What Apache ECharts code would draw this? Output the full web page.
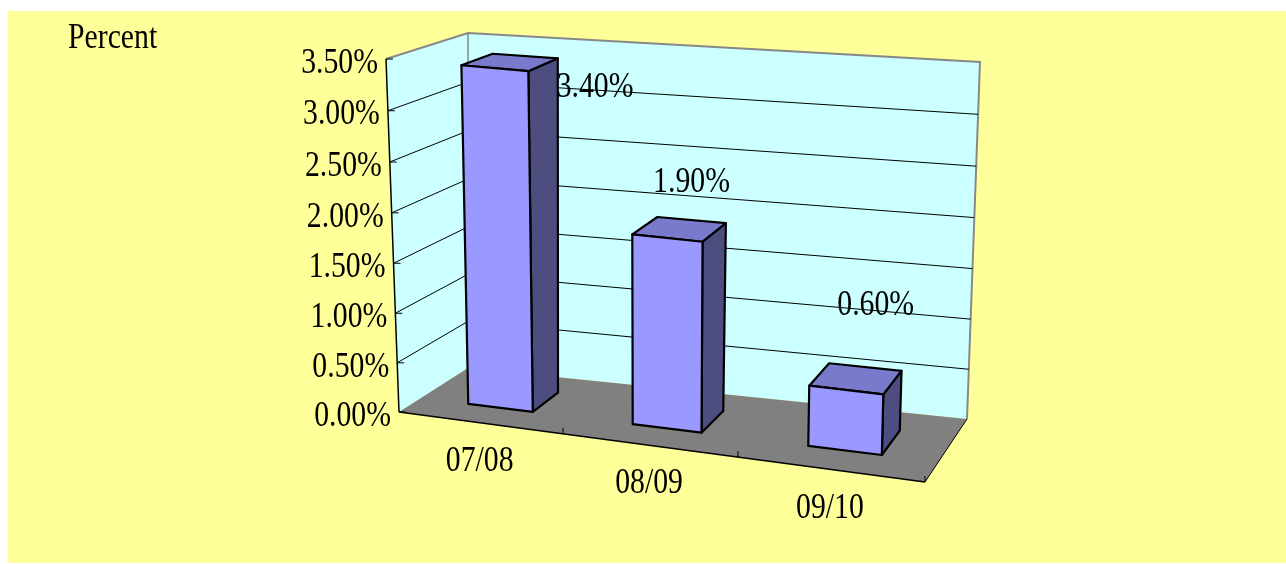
<!DOCTYPE html>
<html>
<head>
<meta charset="utf-8">
<script src="https://cdn.jsdelivr.net/npm/echarts@6/dist/echarts.min.js"></script>
<style>
  html, body { margin: 0; padding: 0; background: #ffffff; }
  #chart { width: 1286px; height: 564px; }
</style>
</head>
<body>
<div id="chart"></div>
<script>
// ---- data ----
const categories = ['07/08', '08/09', '09/10'];
const rates = [3.4, 1.9, 0.6];
const valueTicks = [0, 0.5, 1, 1.5, 2, 2.5, 3, 3.5];
const tickLabels = ['0.00%', '0.50%', '1.00%', '1.50%', '2.00%', '2.50%', '3.00%', '3.50%'];
const axisTitle = 'Percent';

// ---- 3-D look ----
// Screen corners of the plot box: front plane (z = 0) and back wall (z = 1).
const BOX = {
  front: { bl: [399, 412], br: [925, 482], tl: [386, 59], tr: [935, 114] },
  back:  { bl: [468, 368], br: [967, 419], tl: [468, 33], tr: [980, 62] }
};
// perspective foreshortening along each box axis
const PERSP = { u: 1.1036, v: 1.03, z: 0.92 };
const BAR_DEPTH = [0.3, 0.7];   // bar extent front → back
const BAR_WIDTH = 0.4;          // share of the category band
const LABEL_NUDGE = [[85, 24], [12, -48], [20, -74]];
const TEXT_DROP = 2;            // digits sit a little below the em-box middle

const FONT = '35px "Liberation Serif", "Times New Roman", serif';
const TEXT_SQUEEZE = 0.85;
const COLORS = {
  page: '#FFFF99', wall: '#CCFFFF', floor: '#808080', frame: '#888888',
  barFront: '#9999FF', barTop: '#7A7ACC', barSide: '#4D4D80'
};

function persp(t, c) { return t / ((1 - t) * c + t); }
function lerp(a, b, t) { return [a[0] + (b[0] - a[0]) * t, a[1] + (b[1] - a[1]) * t]; }
function onPlane(f, tu, tv) { return lerp(lerp(f.bl, f.br, tu), lerp(f.tl, f.tr, tu), tv); }
function project(u, v, z) {
  const tu = persp(u, PERSP.u), tv = persp(v, PERSP.v), tz = persp(z, PERSP.z);
  return lerp(onPlane(BOX.front, tu, tv), onPlane(BOX.back, tu, tv), tz);
}
// grid pixel → unit box coordinates
function toUnit(params, pt) {
  const r = params.coordSys;
  return [(pt[0] - r.x) / r.width, (r.y + r.height - pt[1]) / r.height];
}
function seg(a, b, stroke, w) {
  return { type: 'line', shape: { x1: a[0], y1: a[1], x2: b[0], y2: b[1] },
           style: { stroke: stroke, lineWidth: w } };
}
function poly(pts, fill, stroke, w) {
  return { type: 'polygon', shape: { points: pts },
           style: { fill: fill, stroke: stroke || null, lineWidth: w || 0, lineJoin: 'round' } };
}
function label(pt, text, align) {
  return { type: 'text', x: pt[0], y: pt[1] + TEXT_DROP, scaleX: TEXT_SQUEEZE,
           style: { text: text, font: FONT, fill: '#000', align: align, verticalAlign: 'middle' } };
}

// walls, floor and axis edges
function renderFrame(params, api) {
  const P = project;
  return { type: 'group', children: [
    poly([P(0, 0, 0), P(0, 1, 0), P(0, 1, 1), P(0, 0, 1)], COLORS.wall),
    poly([P(0, 0, 1), P(0, 1, 1), P(1, 1, 1), P(1, 0, 1)], COLORS.wall),
    poly([P(0, 0, 0), P(1, 0, 0), P(1, 0, 1), P(0, 0, 1)], COLORS.floor),
    { type: 'polyline', shape: { points: [P(0, 1, 0), P(0, 1, 1), P(1, 1, 1), P(1, 0, 1)] },
      style: { stroke: COLORS.frame, lineWidth: 2, fill: 'none' } },
    seg(P(0, 0, 1), P(0, 1, 1), COLORS.frame, 1.5),
    seg(P(1, 0, 1), P(1, 0, 0), '#000', 1),
    seg(P(0, 0, 0), P(1, 0, 0), '#000', 1.5),
    seg(P(0, 0, 0), P(0, 1, 0), '#000', 1.5)
  ] };
}

// value gridlines on both walls, ticks and tick labels
function renderValueTick(params, api) {
  const i = params.dataIndex;
  const v = toUnit(params, api.coord([0, api.value(1)]))[1];
  const a = project(0, v, 0);
  const children = [];
  if (v > 0.001 && v < 0.999) {
    children.push(seg(a, project(0, v, 1), '#000', 1));
    children.push(seg(project(0, v, 1), project(1, v, 1), '#000', 1));
  }
  children.push(seg(a, [a[0] + 7, a[1]], '#000', 1));
  children.push(label([a[0] - 8, a[1] + 2.5], tickLabels[i], 'right'));
  return { type: 'group', children: children };
}

// category ticks and names along the front floor edge
function renderCategory(params, api) {
  const i = api.value(0);
  const c = toUnit(params, api.coord([i, 0]));
  const half = api.size([1, 0])[0] / params.coordSys.width / 2;
  const t = project(c[0] + half, 0, 0);
  const mid = project(c[0], 0, 0);
  return { type: 'group', children: [
    seg(t, [t[0], t[1] - 6], '#000', 1),
    label([mid[0], mid[1] + 37], categories[i], 'center')
  ] };
}

// 3-D columns
function renderBar(params, api) {
  const i = api.value(0);
  const top = toUnit(params, api.coord([i, api.value(1)]));
  const half = api.size([1, 0])[0] / params.coordSys.width * BAR_WIDTH / 2;
  const uL = top[0] - half, uR = top[0] + half, v = top[1];
  const z0 = BAR_DEPTH[0], z1 = BAR_DEPTH[1];
  const P = project;
  return { type: 'group', children: [
    poly([P(uR, 0, z0), P(uR, 0, z1), P(uR, v, z1), P(uR, v, z0)], COLORS.barSide, '#000', 2.2),
    poly([P(uL, v, z0), P(uR, v, z0), P(uR, v, z1), P(uL, v, z1)], COLORS.barTop, '#000', 2.2),
    poly([P(uL, 0, z0), P(uR, 0, z0), P(uR, v, z0), P(uL, v, z0)], COLORS.barFront, '#000', 2.2)
  ] };
}

// value labels above the columns
function renderValueLabel(params, api) {
  const i = api.value(0);
  const val = api.value(1);
  const top = toUnit(params, api.coord([i, val]));
  const p = project(top[0], top[1], 0.5);
  const n = LABEL_NUDGE[i];
  return label([p[0] + n[0], p[1] + n[1]], val.toFixed(2) + '%', 'center');
}

const barData = rates.map((r, i) => [i, r]);

const chart = echarts.init(document.getElementById('chart'), null, { renderer: 'canvas' });
chart.setOption({
  animation: false,
  backgroundColor: '#ffffff',
  graphic: [
    { type: 'rect', z: 0, silent: true, shape: { x: 8, y: 11, width: 1278, height: 552 },
      style: { fill: COLORS.page } },
    { type: 'text', z: 1, silent: true, x: 68, y: 37 + TEXT_DROP, scaleX: TEXT_SQUEEZE,
      style: { text: axisTitle, font: FONT, fill: '#000', verticalAlign: 'middle' } }
  ],
  grid: { left: 400, top: 60, width: 530, height: 350, show: false },
  xAxis: { type: 'category', data: categories, show: false },
  yAxis: { type: 'value', min: 0, max: 3.5, interval: 0.5, show: false },
  series: [
    { type: 'custom', z: 2, silent: true, renderItem: renderFrame, data: [[0, 0]] },
    { type: 'custom', z: 3, silent: true, renderItem: renderValueTick,
      data: valueTicks.map(v => [0, v]) },
    { type: 'custom', z: 3, silent: true, renderItem: renderCategory,
      data: categories.map((c, i) => [i, 0]) },
    { type: 'custom', z: 4, silent: true, renderItem: renderBar, data: barData },
    { type: 'custom', z: 5, silent: true, renderItem: renderValueLabel, data: barData }
  ]
});
</script>
</body>
</html>
